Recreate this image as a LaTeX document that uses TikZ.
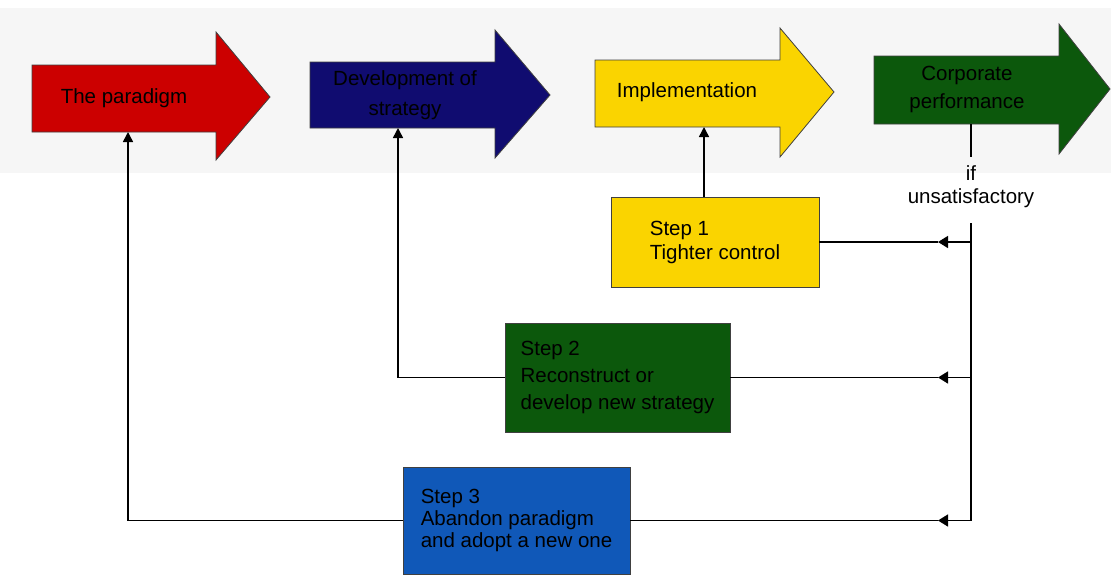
\documentclass[tikz,border=0pt]{standalone}
\usepackage{fontspec}
\setmainfont{Liberation Sans}
\usetikzlibrary{arrows.meta}

\definecolor{pRed}{RGB}{204,0,0}
\definecolor{pNavy}{RGB}{16,12,112}
\definecolor{pYellow}{RGB}{250,212,0}
\definecolor{pGreen}{RGB}{12,88,12}
\definecolor{pBlue}{RGB}{16,88,184}
\definecolor{pBand}{RGB}{246,246,246}

\begin{document}
\begin{tikzpicture}[x=1pt,y=-1pt,
  bigarrow/.style={draw=black!75, line width=0.8pt, line join=miter},
  label/.style={font=\fontsize{20.5}{24}\selectfont, align=center, inner sep=0pt},
  stepbox/.style={draw=black!75, line width=0.8pt, align=left, inner sep=0pt,
    font=\fontsize{20.5}{24}\selectfont},
  conn/.style={line width=1.5pt, black},
  upconn/.style={conn, -{Triangle[length=10pt,width=10pt]}},
  backconn/.style={conn, -{Triangle[length=10pt,width=12pt]}},
]
\useasboundingbox (0,0) rectangle (1111,574);

% light band behind the process chain
\fill[pBand] (0,8) rectangle (1111,173);

% process chain: four block arrows
\path[bigarrow, fill=pRed]
  (32,65) -- (216,65) -- (216,32) -- (270,97) -- (216,160) -- (216,132) -- (32,132) -- cycle;
\path[bigarrow, fill=pNavy]
  (310,62) -- (495,62) -- (495,30) -- (550,95) -- (495,158) -- (495,128) -- (310,128) -- cycle;
\path[bigarrow, fill=pYellow]
  (595,60) -- (780,60) -- (780,28) -- (834,92) -- (780,157) -- (780,127) -- (595,127) -- cycle;
\path[bigarrow, fill=pGreen]
  (874,56) -- (1059,56) -- (1059,24) -- (1110,89) -- (1059,154) -- (1059,124) -- (874,124) -- cycle;

\node[label] (para) at (124,98) {The paradigm};
\node[label, font=\fontsize{20.5}{30}\selectfont] (dev) at (405,95) {Development of\\strategy};
\node[label] (impl) at (687,92) {Implementation};
\node[label, font=\fontsize{20.5}{28}\selectfont] (perf) at (967,89) {Corporate\\performance};

% lower edges of the block arrows, where the feedback lines arrive
\coordinate (paraB) at (128,132);
\coordinate (devB)  at (398,128);
\coordinate (implB) at (704,127);
\coordinate (perfB) at (971,124);

% corrective steps
\node[stepbox, fill=pYellow, minimum width=208pt, minimum height=90pt]
  (s1) at (715,242) {Step 1\\Tighter control};
\node[stepbox, fill=pGreen, minimum width=225pt, minimum height=109pt,
  font=\fontsize{20.5}{27}\selectfont]
  (s2) at (617.5,377.5) {Step 2\\Reconstruct or\\develop new strategy};
\node[stepbox, fill=pBlue, minimum width=227pt, minimum height=107pt,
  font=\fontsize{20.5}{22}\selectfont]
  (s3) at (516.5,520.5) {Step 3\\Abandon paradigm\\and adopt a new one};

% condition on the performance outcome
\node[label, font=\fontsize{20.5}{23}\selectfont] (cond) at (971,187) {if\\unsatisfactory};
\coordinate (ifTop) at (971,157);
\coordinate (jTop)  at (971,223);
\coordinate (tipx)  at (938,0);

\draw[conn] (perfB) -- (ifTop);
\draw[conn] (jTop) -- (jTop |- s3.east);

% feedback to each step, arrowhead partway along
\draw[backconn] (s1.east -| jTop) -- (s1.east -| tipx);
\draw[conn] (s1.east -| tipx) -- (s1.east);
\draw[backconn] (s2.east -| jTop) -- (s2.east -| tipx);
\draw[conn] (s2.east -| tipx) -- (s2.east);
\draw[backconn] (s3.east -| jTop) -- (s3.east -| tipx);
\draw[conn] (s3.east -| tipx) -- (s3.east);

% each step acts on one stage of the chain
\draw[upconn] (s1.north -| implB) -- (implB);
\draw[upconn] (s2.west) -| (devB);
\draw[upconn] (s3.west) -| (paraB);
\end{tikzpicture}
\end{document}
